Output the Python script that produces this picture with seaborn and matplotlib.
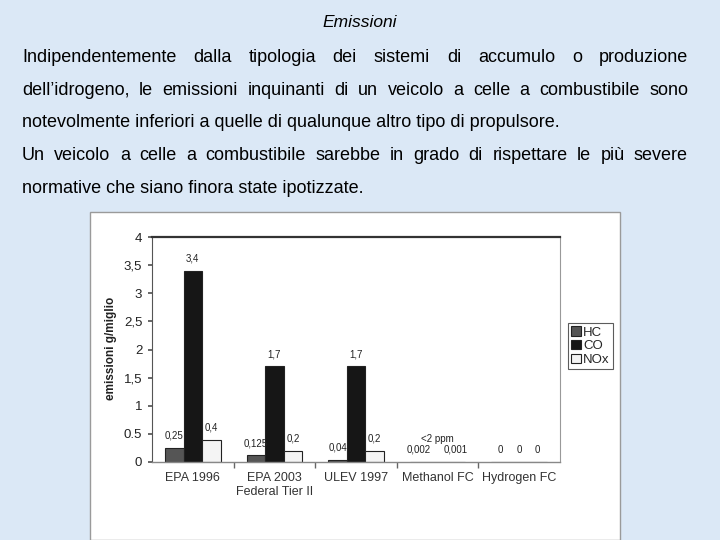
import seaborn as sns
import matplotlib.pyplot as plt
import pandas as pd
from matplotlib.patches import Rectangle, Patch

# chart data
categories = ["EPA 1996", "EPA 2003\nFederal Tier II", "ULEV 1997", "Methanol FC", "Hydrogen FC"]
hc = [0.25, 0.125, 0.04, 0.002, 0.0]
co = [3.4, 1.7, 1.7, 0.0, 0.0]
nox = [0.4, 0.2, 0.2, 0.001, 0.0]
hc_labels = ["0,25", "0,125", "0,04", "0,002", "0"]
co_labels = ["3,4", "1,7", "1,7", "", "0"]
nox_labels = ["0,4", "0,2", "0,2", "0,001", "0"]
series = ["HC", "CO", "NOx"]
yticks = [0, 0.5, 1, 1.5, 2, 2.5, 3, 3.5, 4]
ytick_labels = ["0", "0.5", "1", "1,5", "2", "2,5", "3", "3,5", "4"]

title = "Emissioni"
lines = [
    ("Indipendentemente dalla tipologia dei sistemi di accumulo o produzione", True),
    ("dell’idrogeno, le emissioni inquinanti di un veicolo a celle a combustibile sono", True),
    ("notevolmente inferiori a quelle di qualunque altro tipo di propulsore.", False),
    ("Un veicolo a celle a combustibile sarebbe in grado di rispettare le più severe", True),
    ("normative che siano finora state ipotizzate.", False),
]

df = pd.DataFrame({
    "categoria": categories * 3,
    "inquinante": ["HC"] * 5 + ["CO"] * 5 + ["NOx"] * 5,
    "valore": hc + co + nox,
})

sns.set_theme(style="white")
plt.rcParams["font.family"] = ["Liberation Sans", "DejaVu Sans"]

W, H = 720, 540
bg = "#dbe8f6"
fig = plt.figure(figsize=(7.2, 5.4), dpi=100)
fig.patch.set_facecolor(bg)

# slide text
fs = 13
fig.text(360 / W, 1 - 27 / H, title, ha="center", va="baseline", fontsize=fs - 0.5,
         style="italic", color="black")
renderer = fig.canvas.get_renderer()
L, R = 22, 688
line_y = [62, 95, 127, 160, 193]
for (line, justify), ypx in zip(lines, line_y):
    y = 1 - ypx / H
    if not justify:
        fig.text(L / W, y, line, ha="left", va="baseline", fontsize=fs, color="black")
        continue
    words = line.split()
    texts = [fig.text(0, y, w, ha="left", va="baseline", fontsize=fs, color="black") for w in words]
    widths = [t.get_window_extent(renderer).width for t in texts]
    gap = (R - L - sum(widths)) / (len(words) - 1)
    x = L
    for t, w in zip(texts, widths):
        t.set_x(x / W)
        x += w + gap

# white panel for the chart image
fig.patches.append(Rectangle((90 / W, 0), 530 / W, (540 - 212) / H, transform=fig.transFigure,
                             facecolor="white", edgecolor="#9a9a9a", lw=1, zorder=-1))

ax = fig.add_axes([152 / W, 1 - 462 / H, 408 / W, 225 / H])
ax.set_zorder(2)
ax.set_facecolor("white")
colors = ["#555555", "#161616", "#f4f4f4"]
sns.barplot(data=df, x="categoria", y="valore", hue="inquinante", hue_order=series,
            palette=colors, width=0.68, edgecolor="#222222", linewidth=0.8,
            legend=False, ax=ax)

ax.set_ylim(0, 4)
ax.set_xlim(-0.5, 4.5)
ax.set_yticks(yticks)
ax.set_yticklabels(ytick_labels, fontsize=9.5, color="#222222")
ax.tick_params(axis="x", length=0, pad=7, labelsize=9, labelcolor="#333333")
ax.set_xticks(range(5))
ax.set_xticklabels(categories)
ax.set_xticks([0.5, 1.5, 2.5, 3.5], minor=True)
ax.tick_params(axis="x", which="minor", length=4, direction="out", color="#666666", bottom=True)
ax.tick_params(axis="y", length=3, direction="out", color="#555555", left=True, pad=4)
ax.set_xlabel("")
ax.set_ylabel("emissioni g/miglio", fontsize=8.5, fontweight="bold", color="#222222")
ax.yaxis.set_label_coords(-35 / 408, 0.507)

for side, lw, c in [("top", 1.6, "#333333"), ("right", 0.8, "#999999"),
                    ("left", 0.8, "#555555"), ("bottom", 1.0, "#888888")]:
    ax.spines[side].set_visible(True)
    ax.spines[side].set_linewidth(lw)
    ax.spines[side].set_color(c)

# value labels
for cont, labs in zip(ax.containers, [hc_labels, co_labels, nox_labels]):
    for bar, lab in zip(cont, labs):
        if not lab:
            continue
        ax.annotate(lab, (bar.get_x() + bar.get_width() / 2, bar.get_height()),
                    xytext=(0, 5), textcoords="offset points", ha="center", va="bottom",
                    fontsize=7, color="#222222")
mbar = ax.containers[1][3]
ax.annotate("<2 ppm", (mbar.get_x() + mbar.get_width() / 2, 0), xytext=(0, 13),
            textcoords="offset points", ha="center", va="bottom", fontsize=7, color="#222222")

handles = [Patch(facecolor=c, edgecolor="#222222", lw=0.8) for c in colors]
leg = ax.legend(handles, series, loc="center left", bbox_to_anchor=(1.02, 0.515),
                fontsize=9.5, frameon=True, fancybox=False, handlelength=0.7, handleheight=0.7,
                handletextpad=0.2, borderpad=0.25, labelspacing=0.1, borderaxespad=0)
leg.get_frame().set_edgecolor("#333333")
leg.get_frame().set_linewidth(0.8)

fig.savefig("out.png", dpi=100, facecolor=bg)
